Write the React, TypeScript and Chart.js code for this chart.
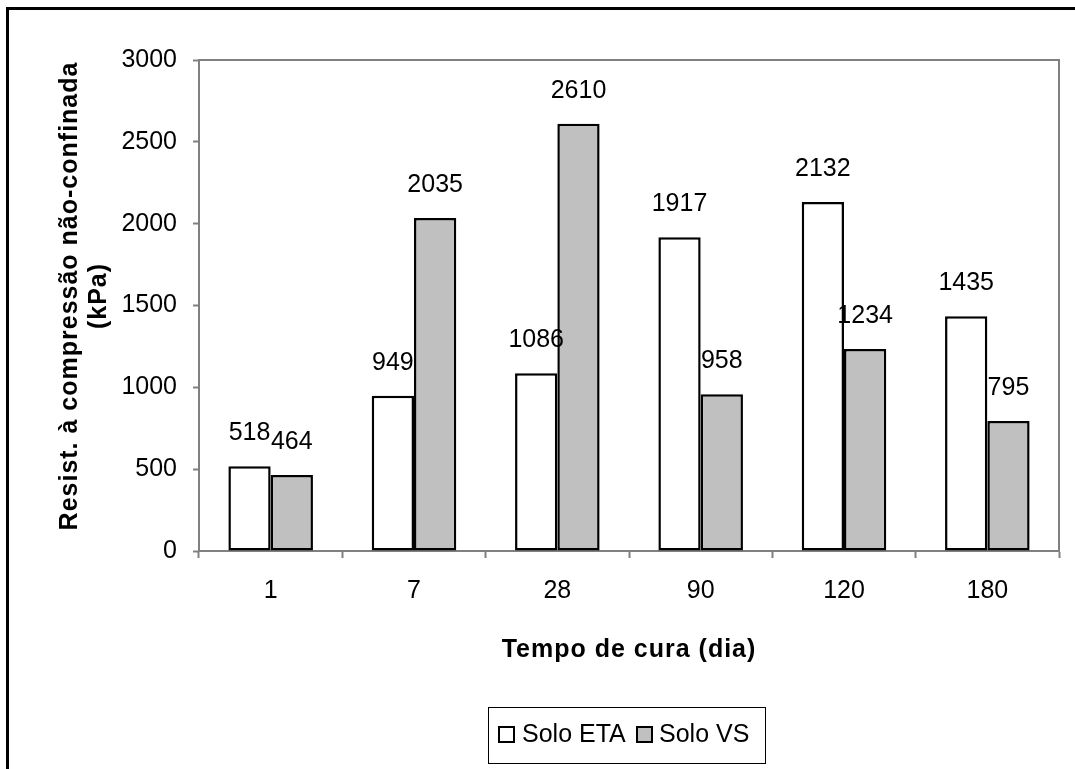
import { useEffect, useRef } from "react";
import { Chart, registerables } from "chart.js";

Chart.register(...registerables);

// Curing time categories (days)
const categories = ["1", "7", "28", "90", "120", "180"];
// Unconfined compressive strength (kPa)
const soloEta = [518, 949, 1086, 1917, 2132, 1435];
const soloVs = [464, 2035, 2610, 958, 1234, 795];
const yTicks = [0, 500, 1000, 1500, 2000, 2500, 3000];
const seriesNames = ["Solo ETA", "Solo VS"];
const seriesFills = ["#ffffff", "#c0c0c0"];
const yTitleLines = ["Resist. à compressão não-confinada", "(kPa)"];
const xTitle = "Tempo de cura (dia)";

const FONT = "'Liberation Sans', Arial, Helvetica, sans-serif";
const W = 1075;
const H = 769;

const decorPlugin = {
  id: "decor",
  beforeDraw(chart: any) {
    const ctx = chart.ctx;
    ctx.save();
    ctx.fillStyle = "#ffffff";
    ctx.fillRect(0, 0, chart.width, chart.height);
    ctx.restore();
  },
  afterDatasetsDraw(chart: any) {
    const ctx = chart.ctx;
    ctx.save();
    ctx.font = `25px ${FONT}`;
    ctx.fillStyle = "#000";
    ctx.textAlign = "center";
    ctx.textBaseline = "alphabetic";
    chart.data.datasets.forEach((ds: any, i: number) => {
      const meta = chart.getDatasetMeta(i);
      meta.data.forEach((bar: any, j: number) => {
        ctx.fillText(String(ds.data[j]), bar.x, bar.y - 26);
      });
    });
    ctx.restore();
  },
  afterDraw(chart: any) {
    const ctx = chart.ctx;
    const { left, top, right, bottom } = chart.chartArea;
    ctx.save();

    // outer frame (left and top edges)
    ctx.strokeStyle = "#000";
    ctx.lineWidth = 3;
    ctx.beginPath();
    ctx.moveTo(7.5, H);
    ctx.lineTo(7.5, 8.5);
    ctx.lineTo(W, 8.5);
    ctx.stroke();

    // plot area frame, top and right
    ctx.strokeStyle = "#808080";
    ctx.lineWidth = 2;
    ctx.beginPath();
    ctx.moveTo(left, top);
    ctx.lineTo(right, top);
    ctx.lineTo(right, bottom);
    ctx.stroke();

    // axis titles
    ctx.fillStyle = "#000";
    ctx.font = `bold 25px ${FONT}`;
    (ctx as any).letterSpacing = "1px";
    ctx.textAlign = "center";
    ctx.textBaseline = "middle";
    ctx.fillText(xTitle, (left + right) / 2, 650);

    ctx.save();
    ctx.translate(70, 296);
    ctx.rotate(-Math.PI / 2);
    ctx.fillText(yTitleLines[0], 0, 0);
    ctx.fillText(yTitleLines[1], 0, 29);
    ctx.restore();
    (ctx as any).letterSpacing = "0px";

    // legend
    const lx = 488.5;
    const ly = 707.5;
    ctx.strokeStyle = "#000";
    ctx.lineWidth = 1;
    ctx.strokeRect(lx, ly, 277, 56);
    ctx.font = `25px ${FONT}`;
    ctx.textAlign = "left";
    ctx.textBaseline = "alphabetic";
    const markerX = [499, 637];
    const textX = [522, 659];
    seriesNames.forEach((name, i) => {
      ctx.fillStyle = seriesFills[i];
      ctx.fillRect(markerX[i], 727, 15, 15);
      ctx.strokeStyle = "#000";
      ctx.lineWidth = 2;
      ctx.strokeRect(markerX[i], 727, 15, 15);
      ctx.fillStyle = "#000";
      ctx.fillText(name, textX[i], 742);
    });

    ctx.restore();
  },
};

export default function App() {
  const canvasRef = useRef<HTMLCanvasElement | null>(null);

  useEffect(() => {
    const canvas = canvasRef.current;
    if (!canvas) return;
    const chart = new Chart(canvas, {
      type: "bar",
      data: {
        labels: categories,
        datasets: [
          {
            label: seriesNames[0],
            data: soloEta,
            backgroundColor: seriesFills[0],
            borderColor: "#000",
            borderWidth: 2.5,
            borderSkipped: false,
          },
          {
            label: seriesNames[1],
            data: soloVs,
            backgroundColor: seriesFills[1],
            borderColor: "#000",
            borderWidth: 2.5,
            borderSkipped: false,
          },
        ],
      },
      options: {
        responsive: false,
        animation: false,
        devicePixelRatio: 1,
        layout: { padding: { left: 0, top: 60, right: 16, bottom: 0 } },
        datasets: {
          bar: { categoryPercentage: 0.59, barPercentage: 1 },
        },
        plugins: {
          legend: { display: false },
          tooltip: { enabled: false },
          title: { display: false },
        },
        scales: {
          x: {
            grid: {
              drawOnChartArea: false,
              offset: true,
              tickLength: 7,
              tickWidth: 2,
              tickColor: "#808080",
              color: "#808080",
            },
            border: { color: "#808080", width: 2 },
            ticks: {
              color: "#000",
              font: { family: FONT, size: 25 },
              padding: 18,
              maxRotation: 0,
            },
            afterFit: (s: any) => {
              s.height = H - 551;
            },
          },
          y: {
            min: 0,
            max: 3000,
            afterBuildTicks: (s: any) => {
              s.ticks = yTicks.map((value) => ({ value }));
            },
            grid: {
              drawOnChartArea: false,
              tickLength: 6,
              tickWidth: 2,
              tickColor: "#808080",
              color: "#808080",
            },
            border: { color: "#808080", width: 2 },
            ticks: {
              color: "#000",
              font: { family: FONT, size: 25 },
              padding: 16,
              callback: (v: any) => String(v),
            },
            afterFit: (s: any) => {
              s.width = 199;
            },
          },
        },
      },
      plugins: [decorPlugin],
    });
    return () => chart.destroy();
  }, []);

  return (
    <div style={{ position: "fixed", left: 0, top: 0, width: W, height: H, background: "#fff" }}>
      <canvas ref={canvasRef} width={W} height={H} style={{ display: "block", width: W, height: H }} />
    </div>
  );
}
